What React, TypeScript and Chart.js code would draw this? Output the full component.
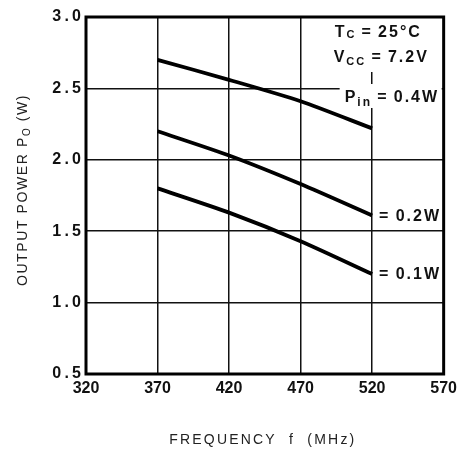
import React, { useEffect, useRef } from "react";
import { Chart, registerables } from "chart.js";

Chart.register(...registerables);

// ---- data ----
const frequencies = [370, 420, 470, 520]; // MHz
const pin04 = [2.7, 2.56, 2.41, 2.22]; // W, Pin = 0.4W
const pin02 = [2.2, 2.03, 1.83, 1.61]; // W, Pin = 0.2W
const pin01 = [1.8, 1.63, 1.43, 1.2]; // W, Pin = 0.1W
const seriesNames = ["0.4W", "0.2W", "0.1W"];
const xTickValues = [320, 370, 420, 470, 520, 570];
const yTickValues = [0.5, 1.0, 1.5, 2.0, 2.5, 3.0];
const tcText = "25°C";
const vccText = "7.2V";
const xTitle = "FREQUENCY  f  (MHz)";
const yTitleMain = "OUTPUT POWER P";
const yTitleSub = "O";
const yTitleTail = " (W)";

const FONT = '"Liberation Sans", Arial, Helvetica, sans-serif';

type Part = { t: string; size: number; dy: number };

function drawParts(ctx: CanvasRenderingContext2D, parts: Part[], x: number, y: number, weight = "normal") {
  let cx = x;
  for (const p of parts) {
    ctx.font = `${weight} ${p.size}px ${FONT}`;
    ctx.fillText(p.t, cx, y + p.dy);
    cx += ctx.measureText(p.t).width;
  }
  return cx - x;
}

function partsWidth(ctx: CanvasRenderingContext2D, parts: Part[], weight = "normal") {
  let w = 0;
  for (const p of parts) {
    ctx.font = `${weight} ${p.size}px ${FONT}`;
    w += ctx.measureText(p.t).width;
  }
  return w;
}

const annotatePlugin = {
  id: "annotate",
  afterDatasetsDraw(chart: any) {
    const ctx: CanvasRenderingContext2D = chart.ctx;
    const a = chart.chartArea;
    const xs = chart.scales.x;
    ctx.save();
    (ctx as any).letterSpacing = "2px";
    ctx.fillStyle = "#fff";
    // white backgrounds behind the conditions block
    ctx.fillRect(a.right - 116, a.top, 114, 55);
    ctx.fillRect(a.right - 104, a.top + 67, 102, 24);

    ctx.fillStyle = "#111";
    ctx.textBaseline = "alphabetic";
    ctx.textAlign = "left";
    const lx = a.right - 109;
    drawParts(
      ctx,
      [
        { t: "T", size: 16, dy: 0 },
        { t: "C", size: 11, dy: 1 },
        { t: "\u2009=\u2009" + tcText, size: 16, dy: 0 },
      ],
      lx,
      a.top + 20,
      "bold"
    );
    drawParts(
      ctx,
      [
        { t: "V", size: 16, dy: 0 },
        { t: "CC", size: 11, dy: 3 },
        { t: "\u2009=\u2009" + vccText, size: 16, dy: 0 },
      ],
      lx - 1,
      a.top + 45,
      "bold"
    );
    drawParts(
      ctx,
      [
        { t: "P", size: 16, dy: 0 },
        { t: "in", size: 12, dy: 4 },
        { t: "\u2009=\u2009" + seriesNames[0], size: 16, dy: 0 },
      ],
      lx + 10,
      a.top + 85,
      "bold"
    );

    // end labels for the other curves
    ctx.font = `bold 16px ${FONT}`;
    ctx.textBaseline = "middle";
    [1, 2].forEach((i) => {
      const meta = chart.getDatasetMeta(i);
      const pt = meta.data[meta.data.length - 1];
      ctx.fillText("=\u2009" + seriesNames[i], pt.x + 7, pt.y + 1);
    });

    // frame
    ctx.strokeStyle = "#000";
    ctx.lineWidth = 3;
    ctx.strokeRect(a.left, a.top, a.right - a.left, a.bottom - a.top);

    // axis titles
    ctx.fillStyle = "#222";
    ctx.textBaseline = "middle";
    ctx.textAlign = "center";
    (ctx as any).letterSpacing = "2.2px";
    ctx.font = `14px ${FONT}`;
    ctx.fillText(xTitle, (xs.left + xs.right) / 2 - 2, 440);

    (ctx as any).letterSpacing = "1.6px";
    ctx.textAlign = "left";
    ctx.textBaseline = "alphabetic";
    const yparts: Part[] = [
      { t: yTitleMain, size: 14, dy: 0 },
      { t: yTitleSub, size: 10, dy: 3 },
      { t: yTitleTail, size: 14, dy: 0 },
    ];
    const w = partsWidth(ctx, yparts);
    ctx.translate(27, 190);
    ctx.rotate(-Math.PI / 2);
    drawParts(ctx, yparts, -w / 2, 0);
    ctx.restore();
  },
};

export default function App() {
  const ref = useRef<HTMLCanvasElement | null>(null);

  useEffect(() => {
    if (!ref.current) return;
    const mk = (vals: number[]) => frequencies.map((f, i) => ({ x: f, y: vals[i] }));
    const lineStyle = {
      borderColor: "#000",
      borderWidth: 3.8,
      pointRadius: 0,
      tension: 0.25,
      fill: false,
    };
    const chart = new Chart(ref.current, {
      type: "line",
      data: {
        datasets: [
          { label: "Pin = " + seriesNames[0], data: mk(pin04), ...lineStyle },
          { label: "Pin = " + seriesNames[1], data: mk(pin02), ...lineStyle },
          { label: "Pin = " + seriesNames[2], data: mk(pin01), ...lineStyle },
        ],
      },
      options: {
        animation: false,
        responsive: false,
        devicePixelRatio: 1,
        layout: { padding: { top: 17, right: 14, left: 0, bottom: 0 } },
        plugins: { legend: { display: false }, tooltip: { enabled: false } },
        scales: {
          x: {
            type: "linear",
            min: 320,
            max: 570,
            afterBuildTicks: (s: any) => {
              s.ticks = xTickValues.map((v) => ({ value: v }));
            },
            afterFit: (s: any) => {
              s.height = 79;
            },
            grid: { color: "#111", lineWidth: 1.5, drawTicks: false },
            border: { display: false },
            ticks: {
              padding: 5,
              color: "#111",
              font: { family: FONT, size: 16, weight: "bold" },
              maxRotation: 0,
              autoSkip: false,
              callback: (v: any) => String(v),
            },
          },
          y: {
            type: "linear",
            min: 0.5,
            max: 3.0,
            afterBuildTicks: (s: any) => {
              s.ticks = yTickValues.map((v) => ({ value: v }));
            },
            afterFit: (s: any) => {
              s.width = 86;
            },
            grid: { color: "#111", lineWidth: 1.5, drawTicks: false },
            border: { display: false },
            ticks: {
              padding: 5,
              color: "#111",
              font: { family: FONT, size: 16, weight: "bold" },
              autoSkip: false,
              callback: (v: any) => Number(v).toFixed(1).split("").join("\u2009"),
            },
          },
        },
      },
      plugins: [annotatePlugin],
    } as any);
    return () => chart.destroy();
  }, []);

  return (
    <div style={{ position: "fixed", left: 0, top: 0, width: 462, height: 453, background: "#fff" }}>
      <canvas ref={ref} width={462} height={453} style={{ width: 462, height: 453, display: "block" }} />
    </div>
  );
}
